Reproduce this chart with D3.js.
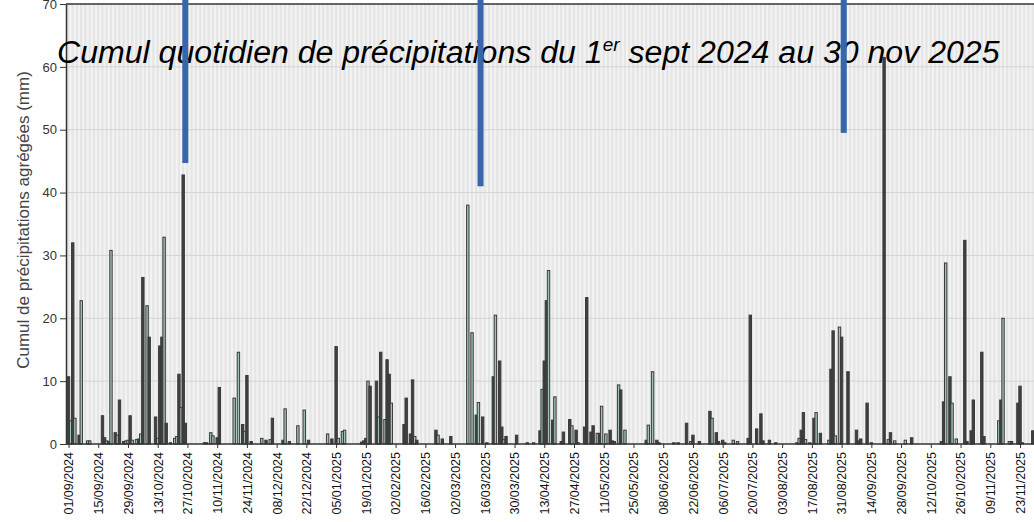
<!DOCTYPE html>
<html>
<head>
<meta charset="utf-8">
<script src="https://cdn.jsdelivr.net/npm/d3@7"></script>
<style>
body { margin: 0; background: #fff; }
svg { display: block; font-family: "Liberation Sans", Arial, sans-serif; }
</style>
</head>
<body>
<div id="chart"></div>
<script>
// period shown
var firstDay = "2024-09-01", lastDay = "2025-11-30";

// daily totals (mm), dark bars
var darkBars = [
    ["2024-09-01", 10.7], ["2024-09-03", 32.0], ["2024-09-06", 1.4], ["2024-09-17", 4.5], ["2024-09-18", 1.0],
    ["2024-09-20", 0.4], ["2024-09-23", 1.8], ["2024-09-25", 7.0], ["2024-09-27", 0.4], ["2024-09-30", 4.5],
    ["2024-10-04", 0.8], ["2024-10-06", 26.5], ["2024-10-09", 17.0], ["2024-10-12", 4.3], ["2024-10-14", 15.6],
    ["2024-10-15", 17.0], ["2024-10-17", 3.3], ["2024-10-19", 0.2], ["2024-10-23", 11.1], ["2024-10-25", 42.8],
    ["2024-10-26", 3.3], ["2024-11-04", 0.2], ["2024-11-05", 0.2], ["2024-11-10", 1.0], ["2024-11-11", 9.0],
    ["2024-11-22", 3.1], ["2024-11-24", 10.9], ["2024-11-26", 0.4], ["2024-12-03", 0.6], ["2024-12-06", 4.1],
    ["2024-12-11", 0.6], ["2024-12-14", 0.4], ["2024-12-23", 0.6], ["2025-01-03", 0.8], ["2025-01-05", 15.5],
    ["2025-01-17", 0.3], ["2025-01-18", 0.5], ["2025-01-19", 0.9], ["2025-01-21", 9.2], ["2025-01-24", 10.0],
    ["2025-01-26", 14.6], ["2025-01-29", 13.4], ["2025-01-30", 11.1], ["2025-02-06", 3.1], ["2025-02-07", 7.3],
    ["2025-02-09", 1.6], ["2025-02-10", 10.2], ["2025-02-12", 0.6], ["2025-02-21", 2.2], ["2025-02-24", 0.8],
    ["2025-02-28", 1.2], ["2025-03-12", 4.6], ["2025-03-15", 4.3], ["2025-03-17", 0.2], ["2025-03-20", 10.7],
    ["2025-03-23", 13.2], ["2025-03-24", 2.7], ["2025-03-26", 1.2], ["2025-03-31", 1.4], ["2025-04-05", 0.2],
    ["2025-04-11", 2.1], ["2025-04-13", 13.2], ["2025-04-14", 22.8], ["2025-04-17", 3.8], ["2025-04-21", 0.4],
    ["2025-04-22", 1.9], ["2025-04-25", 3.9], ["2025-04-28", 2.2], ["2025-05-02", 2.7], ["2025-05-03", 23.3],
    ["2025-05-05", 1.9], ["2025-05-06", 2.9], ["2025-05-09", 1.7], ["2025-05-14", 2.2], ["2025-05-15", 0.5],
    ["2025-05-16", 0.4], ["2025-05-19", 8.6], ["2025-05-31", 0.6], ["2025-06-05", 0.6], ["2025-06-06", 0.2],
    ["2025-06-13", 0.2], ["2025-06-15", 0.2], ["2025-06-19", 3.3], ["2025-06-22", 1.4], ["2025-06-25", 0.4],
    ["2025-06-30", 5.2], ["2025-07-03", 1.8], ["2025-07-04", 0.4], ["2025-07-06", 0.6], ["2025-07-07", 0.2],
    ["2025-07-18", 0.9], ["2025-07-19", 20.5], ["2025-07-22", 2.4], ["2025-07-24", 4.8], ["2025-07-25", 0.5],
    ["2025-07-28", 0.6], ["2025-07-31", 0.2], ["2025-08-10", 0.2], ["2025-08-12", 2.2], ["2025-08-13", 5.0],
    ["2025-08-16", 0.2], ["2025-08-18", 4.1], ["2025-08-21", 1.7], ["2025-08-26", 11.9], ["2025-08-27", 18.0],
    ["2025-08-31", 17.0], ["2025-09-03", 11.5], ["2025-09-07", 2.2], ["2025-09-08", 0.5], ["2025-09-09", 0.8],
    ["2025-09-12", 6.5], ["2025-09-14", 0.2], ["2025-09-20", 61.5], ["2025-09-23", 1.8], ["2025-10-03", 1.0],
    ["2025-10-17", 0.4], ["2025-10-18", 6.7], ["2025-10-21", 10.7], ["2025-10-28", 32.4], ["2025-10-29", 0.4],
    ["2025-10-31", 2.1], ["2025-11-01", 7.0], ["2025-11-05", 14.6], ["2025-11-06", 1.2], ["2025-11-14", 7.0],
    ["2025-11-19", 0.4], ["2025-11-22", 6.5], ["2025-11-23", 9.2], ["2025-11-24", 0.2], ["2025-11-29", 2.1]
];

// daily totals (mm), light bars
var lightBars = [
    ["2024-09-02", 3.7], ["2024-09-04", 4.1], ["2024-09-07", 22.8], ["2024-09-10", 0.5], ["2024-09-11", 0.5],
    ["2024-09-19", 0.5], ["2024-09-21", 30.8], ["2024-09-24", 1.4], ["2024-09-28", 0.5], ["2024-09-29", 0.6],
    ["2024-10-01", 0.6], ["2024-10-03", 0.7], ["2024-10-05", 1.6], ["2024-10-08", 22.0], ["2024-10-13", 0.9],
    ["2024-10-16", 32.9], ["2024-10-21", 0.9], ["2024-10-22", 1.2], ["2024-10-24", 5.8], ["2024-11-07", 1.8],
    ["2024-11-08", 1.3], ["2024-11-18", 7.3], ["2024-11-20", 14.6], ["2024-11-23", 2.0], ["2024-12-01", 0.9],
    ["2024-12-05", 0.7], ["2024-12-12", 5.6], ["2024-12-18", 2.9], ["2024-12-21", 5.4], ["2025-01-01", 1.6],
    ["2025-01-06", 0.9], ["2025-01-08", 2.0], ["2025-01-09", 2.2], ["2025-01-20", 10.0], ["2025-01-25", 4.3],
    ["2025-01-28", 3.9], ["2025-01-31", 6.5], ["2025-02-11", 1.2], ["2025-02-22", 1.4], ["2025-03-08", 38.0],
    ["2025-03-10", 17.7], ["2025-03-13", 6.6], ["2025-03-21", 20.5], ["2025-03-25", 0.7], ["2025-04-08", 0.2],
    ["2025-04-12", 8.7], ["2025-04-15", 27.6], ["2025-04-18", 7.5], ["2025-04-26", 2.9], ["2025-04-29", 0.2],
    ["2025-05-08", 1.7], ["2025-05-10", 6.0], ["2025-05-12", 1.6], ["2025-05-18", 9.4], ["2025-05-21", 2.2],
    ["2025-06-01", 3.0], ["2025-06-03", 11.5], ["2025-06-21", 0.4], ["2025-07-01", 4.1], ["2025-07-11", 0.6],
    ["2025-07-13", 0.4], ["2025-08-11", 0.9], ["2025-08-14", 0.7], ["2025-08-19", 5.0], ["2025-08-25", 0.6],
    ["2025-08-28", 1.3], ["2025-08-30", 18.6], ["2025-09-22", 0.7], ["2025-09-25", 0.5], ["2025-09-30", 0.6],
    ["2025-10-19", 28.8], ["2025-10-22", 6.5], ["2025-10-24", 0.8], ["2025-11-13", 3.7], ["2025-11-15", 20.0],
    ["2025-11-18", 0.4]
];

// blue markers: date and how far down they reach (mm)
var markerDates = ["2024-10-26", "2025-03-14", "2025-09-01"];
var markerTops = [44.7, 41.0, 49.5];

var yTicks = [0, 10, 20, 30, 40, 50, 60, 70];
var xTickDates = [
    "2024-09-01", "2024-09-15", "2024-09-29", "2024-10-13", "2024-10-27", "2024-11-10", "2024-11-24",
    "2024-12-08", "2024-12-22", "2025-01-05", "2025-01-19", "2025-02-02", "2025-02-16", "2025-03-02",
    "2025-03-16", "2025-03-30", "2025-04-13", "2025-04-27", "2025-05-11", "2025-05-25", "2025-06-08",
    "2025-06-22", "2025-07-06", "2025-07-20", "2025-08-03", "2025-08-17", "2025-08-31", "2025-09-14",
    "2025-09-28", "2025-10-12", "2025-10-26", "2025-11-09", "2025-11-23"
];

var parse = d3.utcParse("%Y-%m-%d");
var fmt = d3.utcFormat("%d/%m/%Y");

var width = 1034, height = 522;
var plotLeft = 66, plotTop = 4, plotBottom = 444;

var svg = d3.select("#chart").append("svg")
    .attr("width", width)
    .attr("height", height);

var x = d3.scaleUtc()
    .domain([parse(firstDay), parse(lastDay)])
    .range([68.5, 1034.9]);

var y = d3.scaleLinear()
    .domain([0, 70])
    .range([plotBottom, plotTop]);

var dayW = x(parse("2024-09-02")) - x(parse("2024-09-01"));

// plot background with one stripe per day
svg.append("rect")
    .attr("x", plotLeft).attr("y", y(70))
    .attr("width", width - plotLeft).attr("height", y(0) - y(70))
    .attr("fill", "#e8e8e8");

var allDays = d3.utcDay.range(parse(firstDay), d3.utcDay.offset(parse(lastDay), 1));
svg.append("g")
    .selectAll("rect")
    .data(allDays)
    .join("rect")
    .attr("x", d => x(d) - dayW / 2)
    .attr("y", y(70))
    .attr("width", dayW)
    .attr("height", y(0) - y(70))
    .attr("fill", (d, i) => i % 2 ? "#f3f3f3" : "#e5e5e5");

// horizontal grid
svg.append("g")
    .selectAll("line")
    .data(yTicks.filter(v => v > 0 && v < 70))
    .join("line")
    .attr("x1", plotLeft).attr("x2", width)
    .attr("y1", d => y(d)).attr("y2", d => y(d))
    .attr("stroke", "#d4d4d4")
    .attr("stroke-width", 1);

// bars
var bars = darkBars.map(d => ({ date: parse(d[0]), mm: d[1], kind: "dark" }))
    .concat(lightBars.map(d => ({ date: parse(d[0]), mm: d[1], kind: "light" })))
    .sort((a, b) => a.date - b.date);

svg.append("g")
    .selectAll("rect")
    .data(bars)
    .join("rect")
    .attr("x", d => x(d.date) - 1.2)
    .attr("y", d => y(d.mm))
    .attr("width", 2.4)
    .attr("height", d => y(0) - y(d.mm))
    .attr("fill", d => d.kind === "dark" ? "#404040" : "#9fc2b3")
    .attr("stroke", "#3a3a3a")
    .attr("stroke-width", 1);

// x axis
var xAxis = svg.append("g")
    .attr("transform", "translate(0," + plotBottom + ")")
    .call(d3.axisBottom(x)
        .tickValues(xTickDates.map(parse))
        .tickFormat(fmt)
        .tickSize(4)
        .tickSizeOuter(0));
xAxis.select(".domain").remove();
xAxis.selectAll("line").attr("stroke", "#333");
xAxis.selectAll("text")
    .attr("transform", "rotate(-90)")
    .attr("x", -8)
    .attr("y", 0)
    .attr("dy", "0.35em")
    .style("text-anchor", "end")
    .style("font-family", "'Liberation Sans', Arial, sans-serif")
    .style("font-size", "12.5px")
    .attr("fill", "#111");

svg.append("line")
    .attr("x1", plotLeft).attr("x2", width)
    .attr("y1", plotBottom).attr("y2", plotBottom)
    .attr("stroke", "#333").attr("stroke-width", 1.5);

svg.append("line") // top border
    .attr("x1", plotLeft).attr("x2", width)
    .attr("y1", plotTop).attr("y2", plotTop)
    .attr("stroke", "#333").attr("stroke-width", 1.5);

// y axis
var yAxis = svg.append("g")
    .attr("transform", "translate(" + plotLeft + ",0)")
    .call(d3.axisLeft(y).tickValues(yTicks).tickSize(6).tickSizeOuter(0));
yAxis.select(".domain").attr("stroke", "#333").attr("stroke-width", 1.5);
yAxis.selectAll("line").attr("stroke", "#333");
yAxis.selectAll("text")
    .style("font-family", "'Liberation Sans', Arial, sans-serif")
    .style("font-size", "13px")
    .attr("fill", "#333");

svg.append("text")
    .attr("transform", "translate(29,220) rotate(-90)")
    .attr("text-anchor", "middle")
    .attr("font-size", 17)
    .attr("fill", "#444")
    .text("Cumul de précipitations agrégées (mm)");

// title
var title = svg.append("text")
    .attr("x", 57)
    .attr("y", 63)
    .attr("font-size", 32.1)
    .attr("font-style", "italic")
    .attr("fill", "#000");
title.append("tspan").text("Cumul quotidien de précipitations du 1");
title.append("tspan").attr("font-size", 19).attr("dy", -12).text("er");
title.append("tspan").attr("dy", 12).text(" sept 2024 au 30 nov 2025");

// blue markers
svg.append("g")
    .selectAll("rect")
    .data(markerDates.map((d, i) => ({ date: parse(d), top: markerTops[i] })))
    .join("rect")
    .attr("x", d => x(d.date) - 3)
    .attr("y", 0)
    .attr("width", 6)
    .attr("height", d => y(d.top))
    .attr("fill", "#3766ab");
</script>
</body>
</html>
